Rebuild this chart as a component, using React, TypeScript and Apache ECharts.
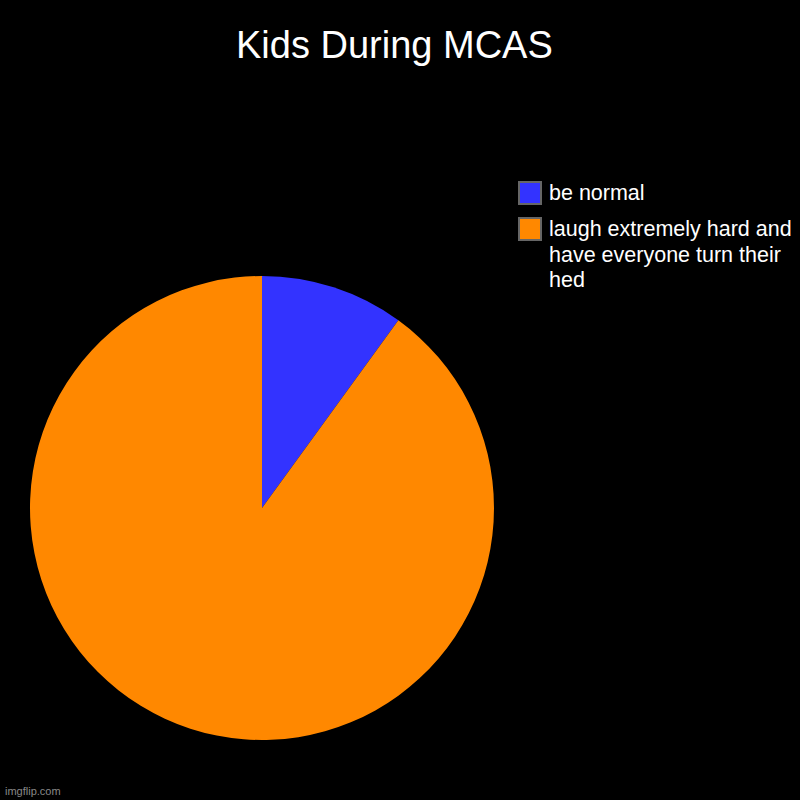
import { useEffect, useRef } from 'react'
import * as echarts from 'echarts'

const names = ['be normal', 'laugh extremely hard and have everyone turn their hed']
const labels = ['be normal', 'laugh extremely hard and\nhave everyone turn their\nhed']
const values = [10, 90]
const colors = ['#3333ff', '#ff8800']

const App: React.FC = () => {
  const chartRef = useRef<HTMLDivElement | null>(null)

  useEffect(() => {
    if (chartRef.current === null) return
    const chart = echarts.init(chartRef.current, null, { renderer: 'svg' })
    const font = 'Liberation Sans, Arial, sans-serif'
    // legend drawn by hand so the wrapped label starts level with its box
    const legendTops = [182, 218]
    const legendItems: any[] = []
    labels.forEach((label, i) => {
      legendItems.push({
        type: 'rect',
        shape: { x: 519, y: legendTops[i], width: 22, height: 22 },
        style: { fill: colors[i], stroke: '#666', lineWidth: 2 }
      })
      legendItems.push({
        type: 'text',
        x: 549,
        y: legendTops[i] + 11 - 12.75,
        style: {
          text: label,
          fill: '#fff',
          fontSize: 21.5,
          fontFamily: font,
          lineHeight: 25.5,
          verticalAlign: 'top'
        }
      })
    })
    chart.setOption({
      animation: false,
      backgroundColor: '#000',
      title: {
        text: 'Kids During MCAS',
        left: 231,
        top: 21,
        textStyle: { color: '#fff', fontSize: 38, fontWeight: 'normal', fontFamily: font }
      },
      graphic: [
        ...legendItems,
        {
          type: 'text',
          left: 5,
          top: 785,
          style: { text: 'imgflip.com', fill: '#888', fontSize: 11, fontFamily: font }
        }
      ],
      series: [
        {
          type: 'pie',
          center: [262, 508],
          radius: 232,
          startAngle: 90,
          clockwise: true,
          label: { show: false },
          labelLine: { show: false },
          emphasis: { disabled: true },
          data: names.map((n, i) => ({ name: n, value: values[i], itemStyle: { color: colors[i] } }))
        }
      ]
    })
    return () => {
      chart.dispose()
    }
  }, [])

  return (
    <div
      ref={chartRef}
      style={{ position: 'absolute', left: 0, top: 0, width: 800, height: 800, background: '#000' }}
    ></div>
  )
}

export default App
